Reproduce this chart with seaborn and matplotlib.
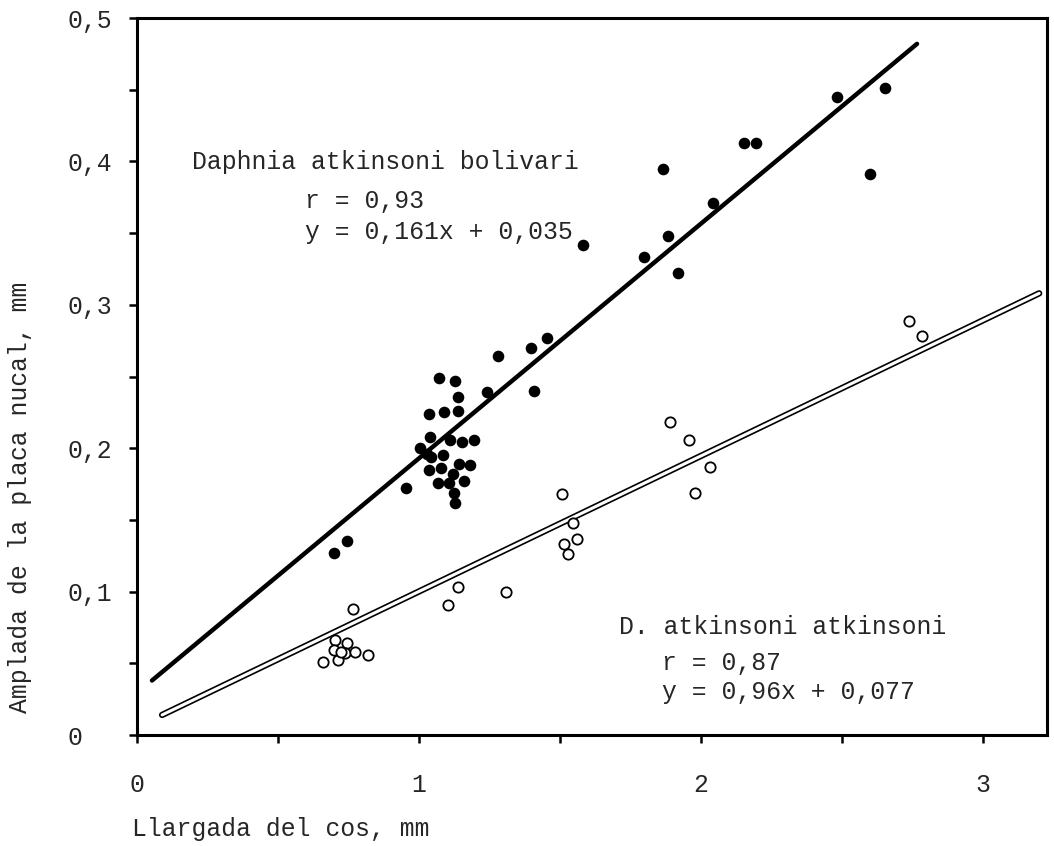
import numpy as np
import matplotlib
matplotlib.use('Agg')
import matplotlib.pyplot as plt
import seaborn as sns

# Daphnia atkinsoni bolivari (filled dots)
bolivari_x = [0.699, 0.745, 0.954,
              1.071, 1.128, 1.138, 1.035, 1.088, 1.138, 1.039, 1.110, 1.152, 1.195,
              1.004, 1.041, 1.085, 1.028, 1.035, 1.078, 1.142, 1.181, 1.121, 1.067,
              1.106, 1.160, 1.124, 1.128,
              1.241, 1.280, 1.397, 1.408, 1.454, 1.582, 1.798, 1.865, 1.883, 1.918,
              2.043, 2.152, 2.195, 2.482, 2.599, 2.652]
bolivari_y = [0.127, 0.135, 0.172,
              0.249, 0.247, 0.236, 0.224, 0.225, 0.226, 0.208, 0.206, 0.204, 0.206,
              0.200, 0.194, 0.195, 0.196, 0.185, 0.186, 0.189, 0.188, 0.182, 0.176,
              0.176, 0.177, 0.169, 0.162,
              0.239, 0.264, 0.270, 0.240, 0.277, 0.342, 0.333, 0.395, 0.348, 0.322,
              0.371, 0.413, 0.413, 0.445, 0.391, 0.451]

# D. atkinsoni atkinsoni (open circles)
atkinsoni_x = [0.766, 0.702, 0.745, 0.699, 0.738, 0.773, 0.660, 0.713, 0.819, 0.725,
               1.103, 1.138, 1.309, 1.507, 1.546, 1.560, 1.514, 1.528,
               1.890, 1.957, 2.032, 1.979, 2.738, 2.784]
atkinsoni_y = [0.088, 0.066, 0.064, 0.059, 0.057, 0.058, 0.051, 0.052, 0.056, 0.058,
               0.091, 0.103, 0.100, 0.168, 0.148, 0.137, 0.133, 0.126,
               0.218, 0.206, 0.187, 0.169, 0.289, 0.278]

# regression line ends
bolivari_line_x = [0.053, 2.766]
bolivari_line_y = [0.038, 0.482]
atkinsoni_line_x = [0.089, 3.199]
atkinsoni_line_y = [0.014, 0.308]

x_ticks = [0, 1, 2, 3]
x_labels = ['0', '1', '2', '3']
y_ticks = [0, 0.1, 0.2, 0.3, 0.4, 0.5]
y_labels = ['0', '0,1', '0,2', '0,3', '0,4', '0,5']

sns.set_style('ticks')
plt.rcParams['font.family'] = ['Liberation Mono', 'DejaVu Sans Mono']
fs = 17.8

fig = plt.figure(figsize=(10.54, 8.46), dpi=100)
ax = fig.add_axes([0.130, 0.1312, 0.8634, 0.8475])

ax.plot(bolivari_line_x, bolivari_line_y, color='black', lw=3.2, solid_capstyle='round', zorder=2)
ax.plot(atkinsoni_line_x, atkinsoni_line_y, color='black', lw=4.6, solid_capstyle='round', zorder=2)
ax.plot(atkinsoni_line_x, atkinsoni_line_y, color='white', lw=2.2, solid_capstyle='round', zorder=3)

sns.scatterplot(x=bolivari_x, y=bolivari_y, ax=ax, color='black', s=70,
                edgecolor='black', linewidth=0, zorder=4)
sns.scatterplot(x=atkinsoni_x, y=atkinsoni_y, ax=ax, facecolor='white', s=55,
                edgecolor='black', linewidth=1.3, zorder=4)

ax.set_xlim(0, 3.227)
ax.set_ylim(0, 0.5)
ax.set_xticks(x_ticks)
ax.set_xticklabels(x_labels, fontsize=fs)
ax.set_xticks([0.5, 1.5, 2.5], minor=True)
ax.set_yticks(y_ticks)
ax.set_yticklabels(y_labels, fontsize=fs, ha='left')
ax.set_yticks([0.05, 0.15, 0.25, 0.35, 0.45], minor=True)
ax.tick_params(axis='both', which='both', direction='out', length=6, width=1.8, color='black')
ax.tick_params(axis='y', which='major', pad=44)
ax.tick_params(axis='x', which='major', pad=21)
for sp in ax.spines.values():
    sp.set_linewidth(2.2)
    sp.set_color('black')

ax.set_xlabel('Llargada del cos, mm', fontsize=fs)
ax.xaxis.set_label_coords(0.158, -0.115)
ax.set_ylabel('Amplada de la placa nucal, mm', fontsize=fs)
ax.yaxis.set_label_coords(-0.115, 0.332)

ax.text(0.195, 0.3996, 'Daphnia atkinsoni bolivari', fontsize=fs, va='center')
ax.text(0.596, 0.3726, 'r = 0,93', fontsize=fs, va='center')
ax.text(0.596, 0.351, 'y = 0,161x + 0,035', fontsize=fs, va='center')
ax.text(1.709, 0.0753, 'D. atkinsoni atkinsoni', fontsize=fs, va='center')
ax.text(1.862, 0.0502, 'r = 0,87', fontsize=fs, va='center')
ax.text(1.862, 0.030, 'y = 0,96x + 0,077', fontsize=fs, va='center')

fig.savefig('out.png', dpi=100)
